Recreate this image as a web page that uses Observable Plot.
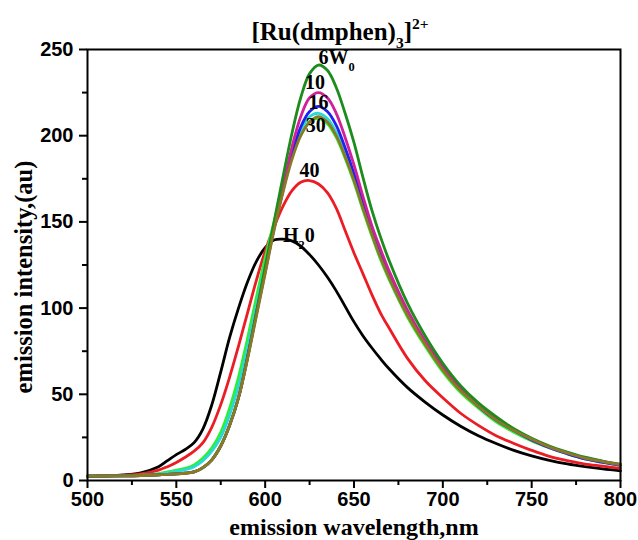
<!DOCTYPE html>
<html>
<head>
<meta charset="utf-8">
<script src="https://cdn.jsdelivr.net/npm/d3@7"></script>
<script src="https://cdn.jsdelivr.net/npm/@observablehq/plot@0.6"></script>
<style>
  html, body { margin: 0; padding: 0; background: #fff; }
</style>
</head>
<body>
<div id="chart"></div>
<script>
// wavelengths (nm)
const wl = [500,510,520,530,540,545,550,555,560,565,570,575,580,585,590,595,600,605,610,615,620,625,630,635,640,645,650,655,660,665,670,680,690,700,710,720,730,740,750,760,770,780,790,800];

// emission intensity (au) per sample
const h2o   = [2.5,2.8,3.3,4.5,8, 11.5,15,18,22,30,44,63,83,100,115,127,135,139.5,140,139,136,131,125,118,110,101,92,84,77,70.5,64.5, 54,45.5,38,31.5,26,21.5,17.5,14.3,11.7,9.6,8,6.7,5.6];
const w40   = [2.5,2.7,3,3.8,6, 8,10.5,13.5,17,22,31,44,60,78,97,116,133,147,159,168,173,174,172,167,158,145,132,120,108,97,88, 71,58,48,39,32,26,21.5,17.5,14,11.5,9.5,8.3,7];
const w30g  = [2.5,2.6,2.8,3.1,4, 5,6,7,9,13,19,28,42,60,82,106,129,150,170,187,200,208,210,207,199,187,173,157,142,128,116, 95,78,63,51,42,34,28,23,19,15.5,12.5,10.5,8.8];
const w30c  = [2.5,2.6,2.8,3,3.7, 4.5,5.3,6.3,8,11.5,17,25,38,55,77,101,125,148,169,188,203,211,213,210,202,190,176,160,145,131,118, 97,80,65,53,43,35,29,24,19.5,16,13,11,9];
const w16   = [2.5,2.6,2.7,2.9,3.3, 3.5,3.8,4.3,5,7.5,12,20,32,48,71,96,121,146,168,189,205,214,217,214,206,193,178,161,146,132,119, 97,80,65,53,43,35,29,23.5,19,15.5,12.5,10.5,8.8];
const w10   = [2.5,2.6,2.7,2.9,3.3, 3.5,3.8,4.3,5,7.5,12,20,32,48,71,97,122,147,171,193,211,222,225,222,213,199,183,165,148,134,121, 99,81,66,54,44,36,29.5,24,19.5,16,13,11,9];
const w6    = [2.5,2.6,2.7,2.9,3.3, 3.5,3.8,4.3,5,7.5,12,20,32,48,71,97,124,150,176,201,222,236,241,238,228,213,196,176,157,141,127, 103,84,68,55,45,37,30,24.5,20,16.5,13.5,11.2,9.3];
const w30o  = [2.5,2.6,2.7,2.9,3.3, 3.5,3.8,4.2,5,7.5,12,20,32,48,70,95,120,145,167,186,200,208,211,208,200,188,174,158,143,129,117, 96,79,64,52,43,35,29,24,19.5,16,13,11,9.3];

// draw order and colours
const seriesNames  = ["H2O","40","30 lime","30 cyan","16","10","6","30 olive"];
const seriesValues = [h2o, w40, w30g, w30c, w16, w10, w6, w30o];
const seriesColors = ["#000000","#ec1c24","#2cf02c","#2ad8d8","#2020f0","#d0209a","#1c8c1c","#8a7a26"];

// curve labels (x nm, y au, text)
const labelText = ["6W_{0}", "10", "16", "30", "40", "H_{2}0"];
const labelX    = [630, 628, 630, 628.5, 625, 610];
const labelY    = [245.5, 231, 219, 206, 180, 142];
const labelAnchor = ["start","middle","middle","middle","middle","start"];

// axis ticks
const xTicks = [500,550,600,650,700,750,800];
const xMinor = [525,575,625,675,725,775];
const yTicks = [0,50,100,150,200,250];
const yMinor = [25,75,125,175,225];

const titleText = "[Ru(dmphen)_{3}]^{2+}";
const xLabel = "emission wavelength,nm";
const yLabel = "emission intensity,(au)";

const rows = seriesNames.flatMap((s, i) => wl.map((w, j) => ({s, wl: w, v: seriesValues[i][j]})));
const labels = labelText.map((t, i) => ({t, x: labelX[i], y: labelY[i], a: labelAnchor[i]}));

const serif = "'Liberation Serif', 'Times New Roman', serif";
const sans = "'Liberation Sans', Arial, sans-serif";

const marks = [];
seriesNames.forEach((s, i) => {
  marks.push(Plot.line(rows.filter(d => d.s === s), {x: "wl", y: "v", stroke: seriesColors[i], strokeWidth: 2.8, curve: "catmull-rom"}));
});
marks.push(
  Plot.axisX({ticks: xMinor, tickSize: 5, tickFormat: () => "", strokeWidth: 2, label: null}),
  Plot.axisY({ticks: yMinor, tickSize: 5, tickFormat: () => "", strokeWidth: 2, label: null}),
  Plot.axisX({ticks: xTicks, tickSize: 8, tickPadding: 3, strokeWidth: 2, fontSize: 20, fontWeight: "bold", fontFamily: sans, tickFormat: d => String(d), label: null}),
  Plot.axisY({ticks: yTicks, tickSize: 8, tickPadding: 6, strokeWidth: 2, fontSize: 20, fontWeight: "bold", fontFamily: sans, tickFormat: d => String(d), label: null}),
  Plot.frame({stroke: "black", strokeWidth: 2}),
  Plot.text(labels.filter(d => d.a === "start"), {x: "x", y: "y", text: "t", textAnchor: "start", lineAnchor: "middle", fontSize: 20, fontWeight: "bold", fontFamily: serif, fill: "black"}),
  Plot.text(labels.filter(d => d.a === "middle"), {x: "x", y: "y", text: "t", textAnchor: "middle", lineAnchor: "middle", fontSize: 20, fontWeight: "bold", fontFamily: serif, fill: "black"}),
  Plot.text([titleText], {frameAnchor: "top", text: d => d, textAnchor: "middle", lineAnchor: "bottom", dx: -14, dy: -10, fontSize: 25, fontWeight: "bold", fontFamily: serif, fill: "black"}),
  Plot.text([xLabel], {frameAnchor: "bottom", text: d => d, textAnchor: "middle", lineAnchor: "middle", dy: 47, fontSize: 24, fontWeight: "bold", fontFamily: serif, fill: "black"}),
  Plot.text([yLabel], {frameAnchor: "left", text: d => d, textAnchor: "middle", lineAnchor: "middle", rotate: -90, dx: -63, dy: 12, fontSize: 24.5, fontWeight: "bold", fontFamily: serif, fill: "black"})
);

const chart = Plot.plot({
  width: 638,
  height: 540,
  marginLeft: 87,
  marginRight: 18,
  marginTop: 49,
  marginBottom: 60,
  style: {background: "white", fontFamily: sans, color: "black"},
  x: {domain: [500, 800]},
  y: {domain: [0, 250]},
  marks
});

// turn _{..} and ^{..} markup into sub/superscript tspans
d3.select(chart).selectAll("text").each(function() {
  const s = this.textContent;
  if (!/[_^]\{/.test(s)) return;
  let fs = 18;
  let p = this;
  while (p && p.getAttribute) {
    const f = p.getAttribute("font-size");
    if (f) { fs = parseFloat(f); break; }
    p = p.parentNode;
  }
  const el = d3.select(this);
  el.text(null);
  const re = /([_^])\{([^}]*)\}|([^_^]+)/g;
  let m, cur = 0;
  while ((m = re.exec(s))) {
    let target, txt, small;
    if (m[3] !== undefined) { target = 0; txt = m[3]; small = false; }
    else if (m[1] === "_") { target = fs * 0.35; txt = m[2]; small = true; }
    else { target = -fs * 0.42; txt = m[2]; small = true; }
    const t = el.append("tspan").attr("dy", (target - cur) + "px").text(txt);
    if (small) t.attr("font-size", (fs * 0.62) + "px");
    cur = target;
  }
});

document.getElementById("chart").appendChild(chart);
</script>
</body>
</html>
